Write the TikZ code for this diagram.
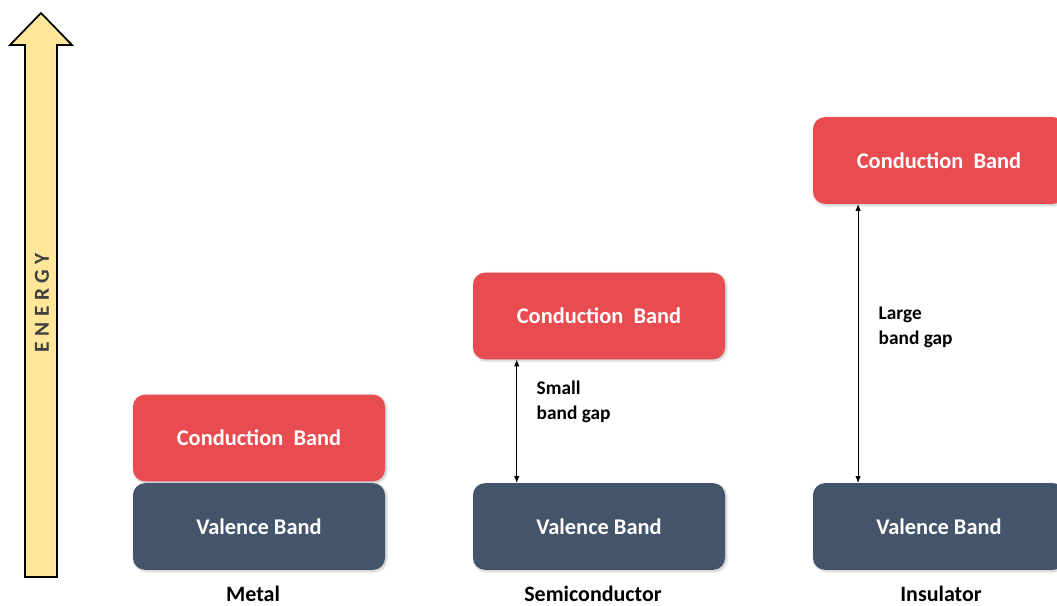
\documentclass[tikz,border=0pt]{standalone}
\usepackage{fontspec}
\setmainfont{Carlito}
\newfontfamily\spacedfont[LetterSpace=26]{Carlito}
\usetikzlibrary{arrows.meta,shadows.blur}
\definecolor{bandred}{HTML}{E84C50}
\definecolor{bandslate}{HTML}{44546A}
\definecolor{energyfill}{HTML}{FFE699}
\definecolor{energytext}{HTML}{404040}
\begin{document}
\begin{tikzpicture}[x=0.75pt,y=-0.75pt,
    band/.style={rounded corners=9pt,minimum width=189pt,minimum height=65pt,
      text=white,font=\bfseries\fontsize{16.8}{19}\selectfont,
      blur shadow={shadow xshift=1pt,shadow yshift=-1pt,shadow blur steps=5,shadow opacity=25}},
    cband/.style={band,fill=bandred},
    vband/.style={band,fill=bandslate},
    caption/.style={font=\bfseries\fontsize{16.5}{18}\selectfont,inner sep=1pt},
    gaplabel/.style={font=\bfseries\fontsize{14.5}{18.75}\selectfont,align=left,anchor=north west},
    gap/.style={{Latex[length=5pt,width=4pt]}-{Latex[length=5pt,width=4pt]},line width=0.6pt}]
  \useasboundingbox (0,0) rectangle (1057,606);
  % energy axis
  \draw[fill=energyfill,line width=1.3pt,line join=miter]
    (25,577) -- (25,45) -- (10,45) -- (41,13) -- (72,45) -- (57,45) -- (57,577) -- cycle;
  \node[rotate=90,text=energytext,font=\spacedfont\bfseries\fontsize{16}{18}\selectfont]
    (energy) at (42,303) {ENERGY};
  % bands
  \draw
    (259,438) node[cband] (metalcb) {Conduction\ \ Band}
    (259,526.5) node[vband] (metalvb) {Valence Band}
    (599,316) node[cband] (semicb) {Conduction\ \ Band}
    (599,526.5) node[vband] (semivb) {Valence Band}
    (939,160.5) node[cband] (inscb) {Conduction\ \ Band}
    (939,526.5) node[vband] (insvb) {Valence Band};
  % captions
  \draw
    (253,594) node[caption] (metal) {Metal}
    (593,594) node[caption] (semi) {Semiconductor}
    (941,594) node[caption] (ins) {Insulator};
  % band gaps
  \begin{scope}[gap]
    \draw ([xshift=33pt]semicb.south west) to ([xshift=33pt]semivb.north west);
    \draw ([xshift=34pt]inscb.south west) to ([xshift=34pt]insvb.north west);
  \end{scope}
  \node[gaplabel] (smallgap) at (532,376) {Small\\band gap};
  \node[gaplabel] (largegap) at (874,302) {Large\\band gap};
\end{tikzpicture}
\end{document}
